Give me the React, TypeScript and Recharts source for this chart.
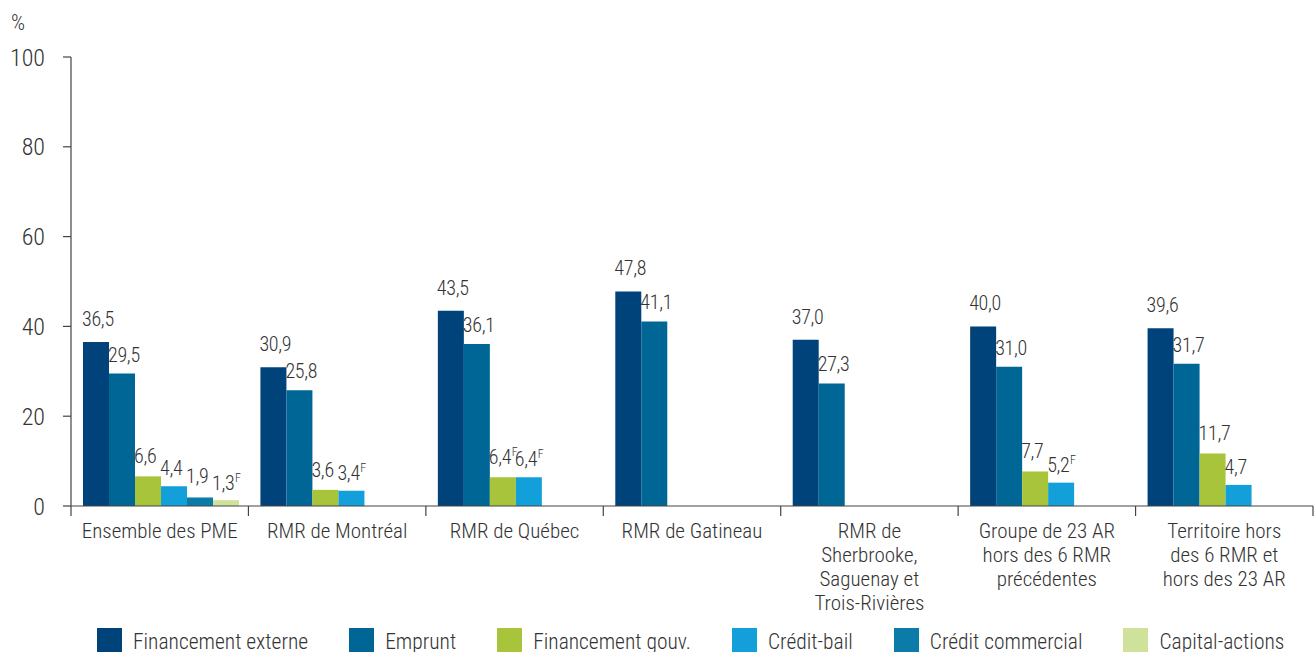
import React from "react";
import { BarChart, Bar, XAxis, YAxis, Legend, LabelList } from "recharts";

const categories = [
  "Ensemble des PME",
  "RMR de Montréal",
  "RMR de Québec",
  "RMR de Gatineau",
  "RMR de\nSherbrooke,\nSaguenay et\nTrois-Rivières",
  "Groupe de 23 AR\nhors des 6 RMR\nprécédentes",
  "Territoire hors\ndes 6 RMR et\nhors des 23 AR",
];

const financementExterne = [36.5, 30.9, 43.5, 47.8, 37.0, 40.0, 39.6];
const emprunt = [29.5, 25.8, 36.1, 41.1, 27.3, 31.0, 31.7];
const financementGouv = [6.6, 3.6, 6.4, null, null, 7.7, 11.7];
const creditBail = [4.4, 3.4, 6.4, null, null, 5.2, 4.7];
const creditCommercial = [1.9, null, null, null, null, null, null];
const capitalActions = [1.3, null, null, null, null, null, null];

// "F" = estimation à utiliser avec prudence
const gouvFlags = ["", "", "F", "", "", "", ""];
const bailFlags = ["", "F", "F", "", "", "F", ""];
const capitalFlags = ["F", "", "", "", "", "", ""];
const noFlags = ["", "", "", "", "", "", ""];

const yTicks = [0, 20, 40, 60, 80, 100];

const FONT = "'Roboto Condensed', 'Liberation Sans Narrow', Roboto, sans-serif";
const TEXT = "#333333";
const WEIGHT = 300;

const series = [
  { key: "fe", name: "Financement externe", color: "#00437A", values: financementExterne, flags: noFlags, gap: 16 },
  { key: "em", name: "Emprunt", color: "#006696", values: emprunt, flags: noFlags, gap: 12 },
  { key: "fg", name: "Financement gouv.", color: "#A8C43A", values: financementGouv, flags: gouvFlags, gap: 13 },
  { key: "cb", name: "Crédit-bail", color: "#13A0DA", values: creditBail, flags: bailFlags, gap: 11 },
  { key: "cc", name: "Crédit commercial", color: "#0B7BA7", values: creditCommercial, flags: noFlags, gap: 14 },
  { key: "ca", name: "Capital-actions", color: "#D0E19B", values: capitalActions, flags: capitalFlags, gap: 10 },
];

const fmt = (v: number) => v.toFixed(1).replace(".", ",");

const data = categories.map((name, i) => {
  const row: Record<string, any> = { name };
  series.forEach((s) => {
    const v = s.values[i];
    row[s.key] = v;
    row[`${s.key}Lbl`] = v === null ? "" : `${fmt(v)}|${s.flags[i]}`;
  });
  return row;
});

const PLOT_LEFT = 71;
const PLOT_RIGHT = 1313;
const band = (PLOT_RIGHT - PLOT_LEFT) / categories.length;

function CategoryTick(props: any) {
  const { x, y, payload, index } = props;
  const lines = String(payload.value).split("\n");
  const left = x - band / 2;
  return (
    <g>
      <line x1={left} y1={y} x2={left} y2={y + 10} stroke="#444" strokeWidth={1.2} />
      {index === categories.length - 1 && (
        <line x1={left + band} y1={y} x2={left + band} y2={y + 10} stroke="#444" strokeWidth={1.2} />
      )}
      <text
        x={x}
        y={y + 32}
        textAnchor="middle"
        fontFamily={FONT}
        fontWeight={WEIGHT}
        fontSize={21}
        fill={TEXT}
      >
        {lines.map((l, i) => (
          <tspan key={i} x={x} dy={i === 0 ? 0 : 24}>
            {l}
          </tspan>
        ))}
      </text>
    </g>
  );
}

function makeLabel(gap: number) {
  return (props: any) => {
    const { x, y, value } = props;
    if (!value) return null;
    const [num, flag] = String(value).split("|");
    return (
      <text
        x={x - 1}
        y={y - gap}
        fontFamily={FONT}
        fontWeight={WEIGHT}
        fontSize={20}
        letterSpacing={-0.3}
        fill={TEXT}
      >
        {num}
        {flag ? (
          <tspan fontSize={12} dy={-8} dx={0.5}>
            {flag}
          </tspan>
        ) : null}
      </text>
    );
  };
}

function LegendContent() {
  return (
    <div
      style={{
        height: 30,
        display: "flex",
        alignItems: "flex-start",
        paddingLeft: 97,
        paddingTop: 6,
        boxSizing: "border-box",
        fontFamily: FONT,
        fontWeight: WEIGHT,
        fontSize: 21.5,
        color: TEXT,
        whiteSpace: "nowrap",
      }}
    >
      {series.map((s) => (
        <div key={s.key} style={{ display: "flex", alignItems: "flex-start", marginRight: 41 }}>
          <div style={{ width: 25, height: 25, background: s.color, marginRight: 11 }} />
          <span style={{ lineHeight: "27px" }}>{s.name}</span>
        </div>
      ))}
    </div>
  );
}

export default function App() {
  return (
    <div style={{ position: "absolute", top: 0, left: 0, width: 1315, height: 652, background: "#fff" }}>
      <BarChart
        width={1315}
        height={652}
        data={data}
        margin={{ top: 57, right: 2, left: 0, bottom: 0 }}
        barCategoryGap={12}
        barGap={0}
      >
        <YAxis
          domain={[0, 100]}
          ticks={yTicks}
          width={71}
          interval={0}
          tickSize={8}
          tickMargin={18}
          axisLine={{ stroke: "#444", strokeWidth: 1.2 }}
          tickLine={{ stroke: "#444", strokeWidth: 1.2 }}
          tick={{ fontFamily: FONT, fontWeight: WEIGHT, fontSize: 24, fill: TEXT }}
          label={{
            content: () => (
              <text x={11} y={30} fontFamily={FONT} fontWeight={WEIGHT} fontSize={22} fill={TEXT}>
                %
              </text>
            ),
          }}
        />
        <XAxis
          dataKey="name"
          interval={0}
          height={116}
          tickSize={0}
          tickMargin={0}
          tickLine={false}
          axisLine={{ stroke: "#444", strokeWidth: 1.2 }}
          tick={<CategoryTick />}
        />
        <Legend verticalAlign="bottom" align="left" content={<LegendContent />} />
        {series.map((s) => (
          <Bar key={s.key} dataKey={s.key} name={s.name} fill={s.color} isAnimationActive={false}>
            <LabelList dataKey={`${s.key}Lbl`} content={makeLabel(s.gap)} />
          </Bar>
        ))}
      </BarChart>
    </div>
  );
}
